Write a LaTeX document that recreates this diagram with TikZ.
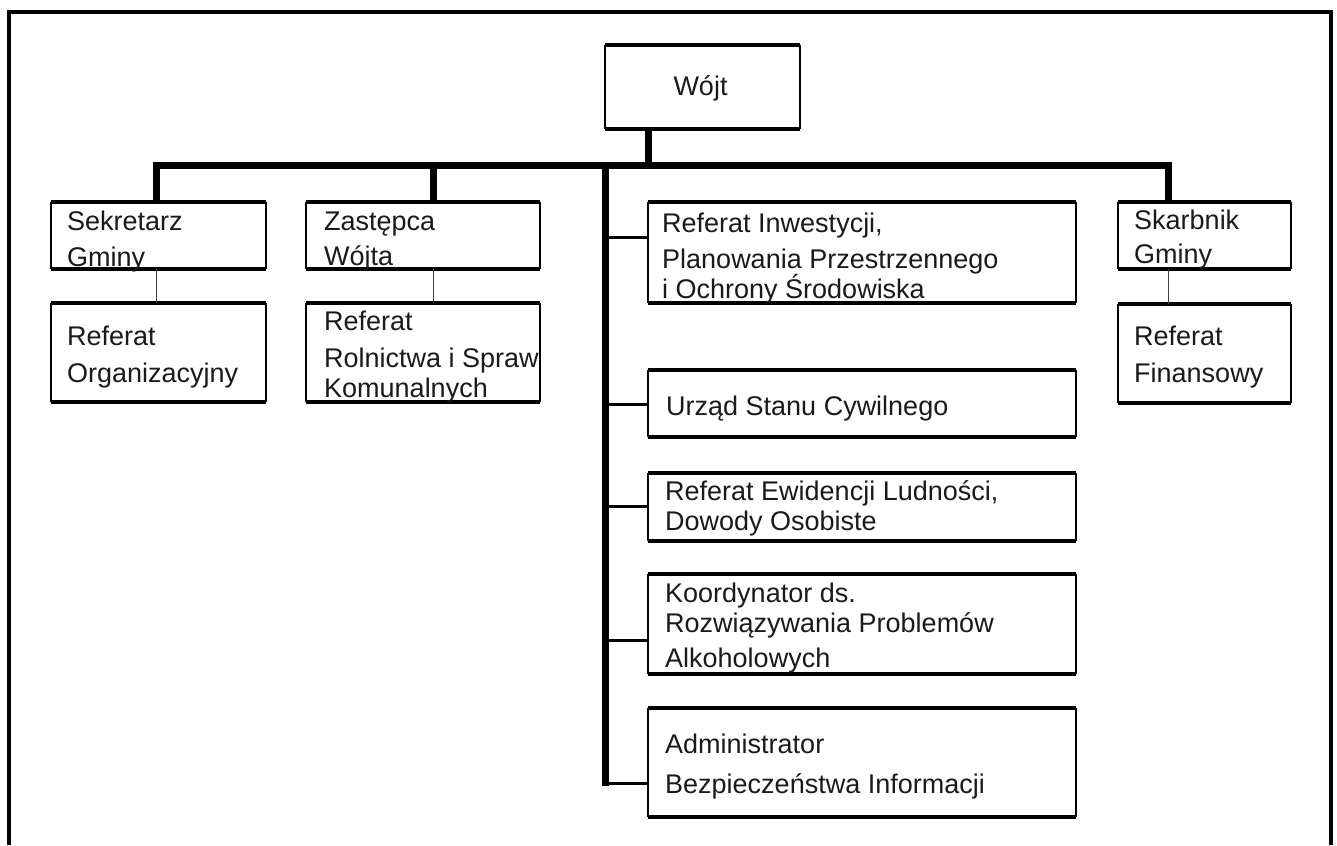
\documentclass[tikz,border=0pt]{standalone}
\usepackage{fontspec}
\setmainfont{Liberation Sans}
\usetikzlibrary{calc}
\definecolor{txtc}{HTML}{1A1A1A}
\begin{document}
\begin{tikzpicture}[x=1pt,y=-1pt,
  boxnode/.style={draw=none, inner sep=0pt, outer sep=0pt},
  txt/.style={inner sep=0pt, anchor=base west, text=txtc, font=\fontsize{27}{32}\selectfont},
  busline/.style={line width=7pt, black},
  branch/.style={line width=3pt, black},
  thinc/.style={line width=1pt, black!75},
  sideline/.style={line width=1.2pt, black},
  capline/.style={line width=3.5pt, black},
  frameline/.style={line width=4pt, black}]
\useasboundingbox (0,0) rectangle (1337,845);
\fill[white] (0,0) rectangle (1337,845);
% frame
\draw[frameline] (9,845) -- (9,12) -- (1331,12) -- (1331,845);

% boxes
\node[boxnode, minimum width=195pt, minimum height=84pt] (wojt) at (702.5,87) {};
\node[boxnode, minimum width=215pt, minimum height=67pt] (sek) at (158.5,235.5) {};
\node[boxnode, minimum width=215pt, minimum height=99pt] (org) at (158.5,352.5) {};
\node[boxnode, minimum width=234pt, minimum height=67pt] (zas) at (423,235.5) {};
\node[boxnode, minimum width=234pt, minimum height=99pt] (rol) at (423,352.5) {};
\node[boxnode, minimum width=428pt, minimum height=101pt] (inw) at (862,252.5) {};
\node[boxnode, minimum width=428pt, minimum height=67pt] (usc) at (862,403.5) {};
\node[boxnode, minimum width=428pt, minimum height=68pt] (ewi) at (862,507) {};
\node[boxnode, minimum width=428pt, minimum height=100pt] (koo) at (862,624) {};
\node[boxnode, minimum width=428pt, minimum height=109pt] (adm) at (862,762.5) {};
\node[boxnode, minimum width=173pt, minimum height=67pt] (ska) at (1204.5,235.5) {};
\node[boxnode, minimum width=173pt, minimum height=99pt] (fin) at (1204.5,353.5) {};

\foreach \n in {wojt,sek,org,zas,rol,inw,usc,ewi,koo,adm,ska,fin}{
  \draw[sideline] (\n.north west) -- (\n.south west);
  \draw[sideline] (\n.north east) -- (\n.south east);
  \draw[capline] (\n.north west) -- (\n.north east);
  \draw[capline] (\n.south west) -- (\n.south east);
}

% texts
\node[txt, anchor=base] (t-wojt) at (700.5,96) {Wójt};
\node[txt] (t-sek1) at (67,230) {Sekretarz};
\node[txt] (t-sek2) at (67,266) {Gminy};
\node[txt] (t-org1) at (67,345) {Referat};
\node[txt] (t-org2) at (67,382) {Organizacyjny};
\node[txt] (t-zas1) at (324,230) {Zastępca};
\node[txt] (t-zas2) at (324,265) {Wójta};
\node[txt] (t-rol1) at (324,330) {Referat};
\node[txt] (t-rol2) at (324,367) {Rolnictwa i Spraw};
\node[txt] (t-rol3) at (324,397) {Komunalnych};
\node[txt] (t-inw1) at (662,232) {Referat Inwestycji,};
\node[txt] (t-inw2) at (662,268) {Planowania Przestrzennego};
\node[txt] (t-inw3) at (662,298) {i Ochrony Środowiska};
\node[txt] (t-usc) at (666,415) {Urząd Stanu Cywilnego};
\node[txt] (t-ewi1) at (665,500) {Referat Ewidencji Ludności,};
\node[txt] (t-ewi2) at (665,530) {Dowody Osobiste};
\node[txt] (t-koo1) at (665,602) {Koordynator ds.};
\node[txt] (t-koo2) at (665,632) {Rozwiązywania Problemów};
\node[txt] (t-koo3) at (665,667) {Alkoholowych};
\node[txt] (t-adm1) at (665,753) {Administrator};
\node[txt] (t-adm2) at (665,793) {Bezpieczeństwa Informacji};
\node[txt] (t-ska1) at (1134,229) {Skarbnik};
\node[txt] (t-ska2) at (1134,263) {Gminy};
\node[txt] (t-fin1) at (1134,345) {Referat};
\node[txt] (t-fin2) at (1134,382) {Finansowy};

% connector coordinates
\coordinate (busL) at (156,166);
\coordinate (busR) at (1168.5,166);
\coordinate (wt) at (648.5,166);
\coordinate (zt) at (433,166);
\coordinate (ct) at (605,166);
\coordinate (ctb) at (605,783);
\coordinate (b-inw) at (605,237);
\coordinate (b-usc) at (605,404);
\coordinate (b-ewi) at (605,506);
\coordinate (b-koo) at (605,640);

% bus and drops
\draw[busline] (sek.north -| busL) -- (busL) -- (busR) -- (ska.north -| busR);
\draw[busline] (wojt.south -| wt) -- (wt);
\draw[busline] (zt) -- (zas.north -| zt);
\draw[busline, line cap=rect] (ct) -- ($(ctb)+(0,-1)$);
% branches
\draw[branch] (b-inw) -- (inw.west |- b-inw);
\draw[branch] (b-usc) -- (usc.west |- b-usc);
\draw[branch] (b-ewi) -- (ewi.west |- b-ewi);
\draw[branch] (b-koo) -- (koo.west |- b-koo);
\draw[branch] ($(ctb)+(-3,0)$) -- (adm.west |- ctb);
% thin connectors
\draw[thinc] (sek.south -| busL) -- (org.north -| busL);
\draw[thinc] (zas.south -| zt) -- (rol.north -| zt);
\draw[thinc] (ska.south -| busR) -- (fin.north -| busR);
\end{tikzpicture}
\end{document}
